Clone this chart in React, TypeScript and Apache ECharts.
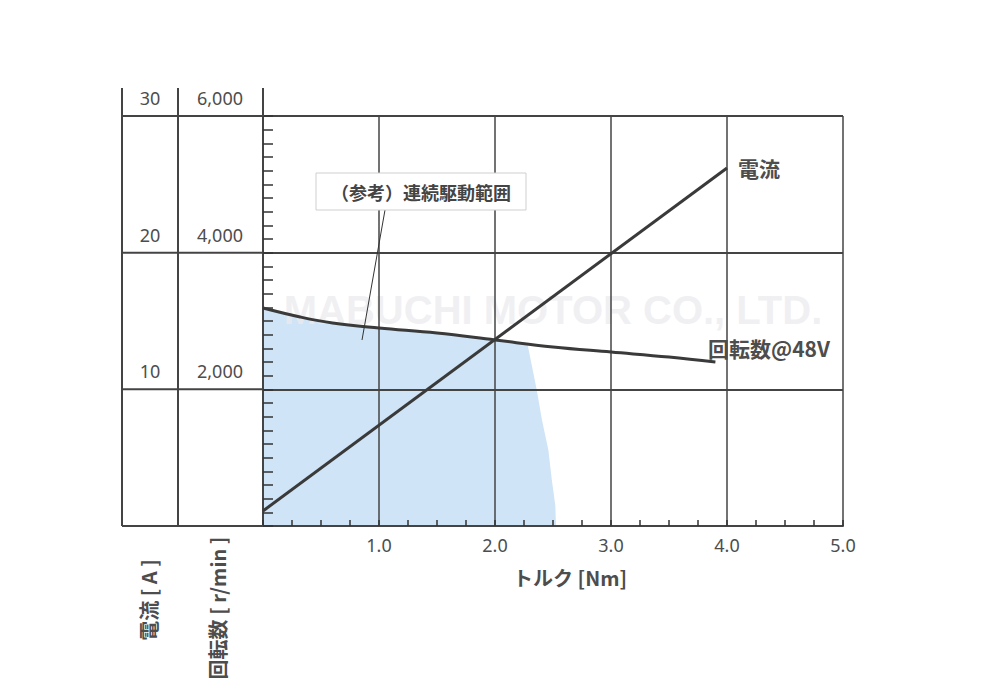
import React, { useEffect, useRef } from "react";
import * as echarts from "echarts";

// Torque [Nm] vs speed [r/min] at 48V
const speedData: [number, number][] = [
  [0, 3190], [0.32, 3059], [0.6, 2971], [1.0, 2898], [1.5, 2824],
  [2.0, 2722], [2.5, 2620], [3.0, 2546], [3.5, 2473], [3.9, 2400],
];
// Torque [Nm] vs current [A]
const currentData: [number, number][] = [
  [0, 1.1], [4.0, 26.2],
];
// Continuous operating range boundary (torque, speed)
const rangeData: [number, number][] = [
  [0, 3190], [0.32, 3059], [0.6, 2971], [1.0, 2898], [1.5, 2824],
  [2.0, 2722], [2.28, 2665], [2.36, 1990], [2.405, 1551], [2.46, 1112],
  [2.49, 673], [2.52, 300], [2.526, 0],
];
const xTicks = { min: 0, max: 5, interval: 1 };
const speedTicks = { min: 0, max: 6000, interval: 2000 };
const currentTicks = { min: 0, max: 30, interval: 10 };

const TXT = "#4d4d4d";
const LINE = "#444";
const JP = "'Noto Sans CJK JP', 'Noto Sans', sans-serif";
const NUM = "'Noto Sans', 'Noto Sans CJK JP', sans-serif";

export default function App() {
  const ref = useRef<HTMLDivElement>(null);
  useEffect(() => {
    if (!ref.current) return;
    const chart = echarts.init(ref.current, undefined, { renderer: "svg" });
    const gTop = 116, gBottom = 526, gLeft = 263, gRight = 843;
    const yOf = (v: number) => gBottom - (v / speedTicks.max) * (gBottom - gTop);
    const hLines = [6000, 4000, 2000, 0].map((v) => ({
      type: "line", z: 4,
      shape: { x1: 122, y1: yOf(v), x2: gLeft, y2: yOf(v) },
      style: { stroke: LINE, lineWidth: 2 },
    }));
    chart.setOption({
      animation: false,
      backgroundColor: "#fff",
      grid: { left: gLeft, right: 1000 - gRight, top: gTop, bottom: 692 - gBottom },
      xAxis: {
        type: "value", ...xTicks, z: 3,
        axisLine: { show: true, lineStyle: { color: LINE, width: 2 } },
        axisTick: { show: true, inside: true, length: 6, lineStyle: { color: "#333", width: 1.5 } },
        minorTick: { show: true, splitNumber: 4, length: 6, lineStyle: { color: "#333", width: 1.5 } },
        splitLine: { show: true, lineStyle: { color: LINE, width: 1.5 } },
        axisLabel: {
          formatter: (v: number) => (v === 0 ? "" : v.toFixed(1)),
          fontSize: 18, color: TXT, fontFamily: NUM, margin: 10,
        },
      },
      yAxis: [
        {
          type: "value", ...speedTicks, position: "left", z: 3,
          axisLine: { show: true, lineStyle: { color: LINE, width: 2 } },
          axisTick: { show: true, inside: true, length: 10, lineStyle: { color: "#333", width: 1.5 } },
          minorTick: { show: true, splitNumber: 10, length: 10, lineStyle: { color: "#333", width: 1.5 } },
          splitLine: { show: true, lineStyle: { color: LINE, width: 2 } },
          axisLabel: {
            formatter: (v: number) => (v === 0 ? "" : v.toLocaleString("en-US")),
            fontSize: 18, color: TXT, fontFamily: NUM, margin: 43,
            align: "center", verticalAlign: "bottom", padding: [0, 0, 9, 0],
          },
        },
        {
          type: "value", ...currentTicks, position: "left", z: 3,
          axisLine: { show: false }, axisTick: { show: false }, splitLine: { show: false },
          axisLabel: {
            formatter: (v: number) => (v === 0 ? "" : String(v)),
            fontSize: 18, color: TXT, fontFamily: NUM, margin: 113,
            align: "center", verticalAlign: "bottom", padding: [0, 0, 9, 0],
          },
        },
      ],
      series: [
        {
          type: "line", data: rangeData, yAxisIndex: 0, z: 1, symbol: "none",
          lineStyle: { width: 0 }, areaStyle: { color: "#cfe4f6", opacity: 1 },
          silent: true,
        },
        {
          type: "line", data: speedData, yAxisIndex: 0, z: 5, symbol: "none", smooth: 0.4,
          lineStyle: { color: "#3a3a3a", width: 3 },
        },
        {
          type: "line", data: currentData, yAxisIndex: 1, z: 5, symbol: "none",
          lineStyle: { color: "#3a3a3a", width: 3 },
        },
      ],
      graphic: [
        { type: "line", z: 4, shape: { x1: 122, y1: 88, x2: 122, y2: gBottom }, style: { stroke: LINE, lineWidth: 2 } },
        { type: "line", z: 4, shape: { x1: 178, y1: 88, x2: 178, y2: gBottom }, style: { stroke: LINE, lineWidth: 2 } },
        { type: "line", z: 4, shape: { x1: gLeft, y1: 88, x2: gLeft, y2: gTop }, style: { stroke: LINE, lineWidth: 2 } },
        ...hLines,
        {
          type: "text", z: 2, x: 553, y: 310,
          style: {
            text: "MABUCHI MOTOR CO., LTD.", fill: "#ebebf0", opacity: 0.75,
            font: `bold 40px 'Liberation Sans', sans-serif`, lineHeight: 28, align: "center", verticalAlign: "middle",
          },
          silent: true,
        },
        { type: "line", z: 6, shape: { x1: 385, y1: 210, x2: 362, y2: 340 }, style: { stroke: "#333", lineWidth: 1 } },
        {
          type: "rect", z: 10, shape: { x: 316, y: 173, width: 210, height: 37 },
          style: { fill: "#fff", stroke: "#cfcfcf", lineWidth: 1 },
        },
        {
          type: "text", z: 11, x: 421, y: 192,
          style: { text: "（参考）連続駆動範囲", fill: "#444", font: `bold 18px ${JP}`, align: "center", verticalAlign: "middle" },
        },
        {
          type: "text", z: 11, x: 738, y: 168,
          style: { text: "電流", fill: TXT, font: `bold 21px ${JP}`, align: "left", verticalAlign: "middle" },
        },
        {
          type: "text", z: 11, x: 708, y: 348,
          style: { text: "回転数@48V", fill: TXT, font: `bold 21px ${JP}`, lineHeight: 22, align: "left", verticalAlign: "middle" },
        },
        {
          type: "text", z: 11, x: 570, y: 577,
          style: { text: "トルク [Nm]", fill: TXT, font: `bold 20px ${JP}`, align: "center", verticalAlign: "middle" },
        },
        {
          type: "text", z: 11, x: 148, y: 600, rotation: Math.PI / 2,
          style: { text: "電流 [ A ]", fill: TXT, font: `bold 20px ${JP}`, align: "center", verticalAlign: "middle" },
        },
        {
          type: "text", z: 11, x: 217, y: 608, rotation: Math.PI / 2,
          style: { text: "回転数 [ r/min ]", fill: TXT, font: `bold 20px ${JP}`, align: "center", verticalAlign: "middle" },
        },
      ],
    });
    return () => chart.dispose();
  }, []);
  return <div ref={ref} style={{ position: "fixed", left: 0, top: 0, width: 1000, height: 692 }} />;
}
